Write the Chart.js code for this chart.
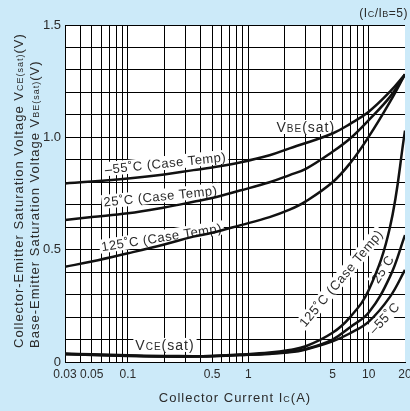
<!DOCTYPE html>
<html>
<head>
<meta charset="utf-8">
<script src="https://cdn.jsdelivr.net/npm/chart.js@4/dist/chart.umd.min.js"></script>
<style>
  html, body { margin: 0; padding: 0; background: #cceaf9; }
</style>
</head>
<body>
<canvas id="vsatChart" width="410" height="411"></canvas>
<script>
// Collector current (A) sample points
const currents = [0.03, 0.05, 0.1, 0.2, 0.35, 0.5, 0.85, 1.5, 2.2, 3, 5, 7, 10, 15, 20];

// Base-emitter saturation voltage (V)
const vbeM55 = [0.795, 0.803, 0.817, 0.835, 0.854, 0.866, 0.888, 0.92, 0.951, 0.975, 1.017, 1.06, 1.114, 1.203, 1.28];
const vbe25  = [0.632, 0.645, 0.662, 0.688, 0.713, 0.73, 0.763, 0.8, 0.832, 0.86, 0.936, 0.995, 1.077, 1.18, 1.28];
const vbe125 = [0.424, 0.447, 0.484, 0.523, 0.558, 0.575, 0.608, 0.645, 0.678, 0.715, 0.8, 0.885, 1.003, 1.158, 1.28];

// Collector-emitter saturation voltage (V)
const vce125 = [0.036, 0.032, 0.028, 0.025, 0.025, 0.027, 0.033, 0.042, 0.054, 0.07, 0.13, 0.2, 0.32, 0.6, 1.03];
const vce25  = [0.035, 0.031, 0.027, 0.024, 0.024, 0.026, 0.031, 0.038, 0.046, 0.058, 0.1, 0.155, 0.22, 0.38, 0.565];
const vceM55 = [0.038, 0.034, 0.03, 0.027, 0.026, 0.027, 0.031, 0.036, 0.043, 0.056, 0.092, 0.128, 0.18, 0.29, 0.41];

// Axis grid positions and tick labels
const xGrid = [0.03, 0.04, 0.05, 0.06, 0.07, 0.08, 0.09, 0.1, 0.2, 0.3, 0.4, 0.5, 0.6, 0.7, 0.8, 0.9,
               1, 2, 3, 4, 5, 6, 7, 8, 9, 10, 20];
const xTickLabels = ['0.03', '0.05', '0.1', '0.5', '1', '5', '10', '20'];
const yTickLabels = ['0', '0.5', '1.0', '1.5'];

const fontFamily = '"Liberation Sans", Arial, sans-serif';
const textColor = '#2b2b2b';

// Curve labels, placed in data units [current, voltage]
const curveLabels = [
    { parts: [['V', 14], ['BE', 10], ['(sat)', 14]], at: [3.0, 1.046], angle: 0, spacing: '1px' },
    { parts: [['V', 14], ['CE', 10], ['(sat)', 14]], at: [0.203, 0.076], angle: 0, spacing: '1px' },
    { parts: [['\u201355\u02DAC (Case Temp)', 13]], at: [0.205, 0.886], angle: -6, spacing: '0.5px' },
    { parts: [['25\u02DAC (Case Temp)', 13]], at: [0.186, 0.739], angle: -6, spacing: '0.5px' },
    { parts: [['125\u02DAC (Case Temp)', 13]], at: [0.19, 0.556], angle: -9, spacing: '0.5px' },
    { parts: [['125\u02DAC (Case Temp)', 13]], at: [5.87, 0.374], angle: -50, spacing: '0.5px' },
    { parts: [['25\u02DAC', 13]], at: [13.0, 0.414], angle: -57, spacing: '0.5px' },
    { parts: [['\u201355\u02DAC', 13]], at: [13.4, 0.196], angle: -47, spacing: '0.5px' }
];

function toPoints(ys) {
    return currents.map((x, i) => ({ x: x, y: ys[i] }));
}

function partsWidth(ctx, parts) {
    let w = 0;
    parts.forEach(p => {
        ctx.font = p[1] + 'px ' + fontFamily;
        w += ctx.measureText(p[0]).width;
    });
    return w;
}

// draws mixed-size text on one shared baseline, y is the visual middle
function drawRich(ctx, parts, x, y, align) {
    const total = partsWidth(ctx, parts);
    const big = Math.max(...parts.map(p => p[1]));
    let cx = align === 'center' ? x - total / 2 : (align === 'right' ? x - total : x);
    ctx.textAlign = 'left';
    ctx.textBaseline = 'alphabetic';
    parts.forEach(p => {
        ctx.font = p[1] + 'px ' + fontFamily;
        ctx.fillText(p[0], cx, y + big * 0.36);
        cx += ctx.measureText(p[0]).width;
    });
    return total;
}

function curve(data) {
    return {
        data: toPoints(data),
        borderColor: '#111',
        borderWidth: 2.5,
        pointRadius: 0,
        showLine: true,
        fill: false,
        tension: 0.4
    };
}

const backgroundPlugin = {
    id: 'backgrounds',
    beforeDraw(chart) {
        const { ctx, chartArea: a } = chart;
        ctx.save();
        ctx.fillStyle = '#cceaf9';
        ctx.fillRect(0, 0, chart.width, chart.height);
        ctx.fillStyle = '#ffffff';
        ctx.fillRect(a.left, a.top, a.right - a.left, a.bottom - a.top);
        ctx.restore();
    }
};

const labelPlugin = {
    id: 'curveLabels',
    beforeDatasetsDraw(chart) {
        const { ctx, scales } = chart;
        ctx.save();
        curveLabels.forEach(l => {
            const px = scales.x.getPixelForValue(l.at[0]);
            const py = scales.y.getPixelForValue(l.at[1]);
            ctx.save();
            ctx.letterSpacing = l.spacing;
            ctx.translate(px, py);
            ctx.rotate(l.angle * Math.PI / 180);
            const w = partsWidth(ctx, l.parts);
            ctx.fillStyle = '#ffffff';
            ctx.fillRect(-w / 2 - 2, -7, w + 4, 14);
            ctx.fillStyle = textColor;
            drawRich(ctx, l.parts, 0, 0, 'center');
            ctx.restore();
        });
        ctx.restore();
    },
    afterDraw(chart) {
        const { ctx, chartArea: a } = chart;
        ctx.save();
        ctx.fillStyle = textColor;
        ctx.letterSpacing = '1px';
        // x axis title
        drawRich(ctx, [['Collector Current I', 13], ['C', 9], ['(A)', 13]], (a.left + a.right) / 2, 397, 'center');
        // y axis title, two lines
        ctx.save();
        ctx.translate(18, 348);
        ctx.rotate(-Math.PI / 2);
        drawRich(ctx, [['Collector-Emitter Saturation Voltage V', 13], ['CE(sat)', 9], ['(V)', 13]], 0, 0, 'left');
        ctx.restore();
        ctx.save();
        ctx.translate(34, 348);
        ctx.rotate(-Math.PI / 2);
        drawRich(ctx, [['Base-Emitter Saturation Voltage V', 13], ['BE(sat)', 9], ['(V)', 13]], 0, 0, 'left');
        ctx.restore();
        // condition note
        ctx.letterSpacing = '0.5px';
        drawRich(ctx, [['(I', 12], ['C', 9], ['/I', 12], ['B', 9], ['=5)', 12]], 408, 13, 'right');
        ctx.restore();
    }
};

new Chart(document.getElementById('vsatChart'), {
    type: 'scatter',
    data: {
        datasets: [
            curve(vbeM55), curve(vbe25), curve(vbe125),
            curve(vce125), curve(vce25), curve(vceM55)
        ]
    },
    options: {
        responsive: false,
        animation: false,
        events: [],
        layout: { padding: { top: 25, right: 5, left: 0, bottom: 0 } },
        plugins: {
            legend: { display: false },
            tooltip: { enabled: false }
        },
        scales: {
            x: {
                type: 'logarithmic',
                min: 0.03,
                max: 20,
                afterBuildTicks(scale) {
                    scale.ticks = xGrid.map(v => ({ value: v }));
                },
                afterFit(scale) {
                    scale.height = 49;
                    scale.paddingLeft = 0;
                    scale.paddingRight = 0;
                },
                grid: {
                    color: ctx => (ctx.tick && ctx.tick.value === 20 ? 'rgba(0,0,0,0)' : '#000'),
                    lineWidth: 1,
                    drawTicks: false
                },
                border: { display: true, color: '#000', width: 1 },
                ticks: {
                    autoSkip: false,
                    maxRotation: 0,
                    padding: 5,
                    color: textColor,
                    font: { family: fontFamily, size: 12 },
                    callback(value) {
                        const t = xTickLabels.find(l => Math.abs(parseFloat(l) - value) < 1e-9);
                        return t === undefined ? '' : t;
                    }
                }
            },
            y: {
                type: 'linear',
                min: 0,
                max: 1.5,
                afterFit(scale) {
                    scale.width = 65;
                    scale.paddingTop = 0;
                    scale.paddingBottom = 0;
                },
                grid: { color: '#000', lineWidth: 1, drawTicks: false },
                border: { display: true, color: '#000', width: 1 },
                ticks: {
                    stepSize: 0.1,
                    autoSkip: false,
                    padding: 4,
                    color: textColor,
                    font: { family: fontFamily, size: 13 },
                    callback(value) {
                        const t = yTickLabels.find(l => Math.abs(parseFloat(l) - value) < 1e-6);
                        return t === undefined ? '' : t;
                    }
                }
            }
        }
    },
    plugins: [backgroundPlugin, labelPlugin]
});
</script>
</body>
</html>
